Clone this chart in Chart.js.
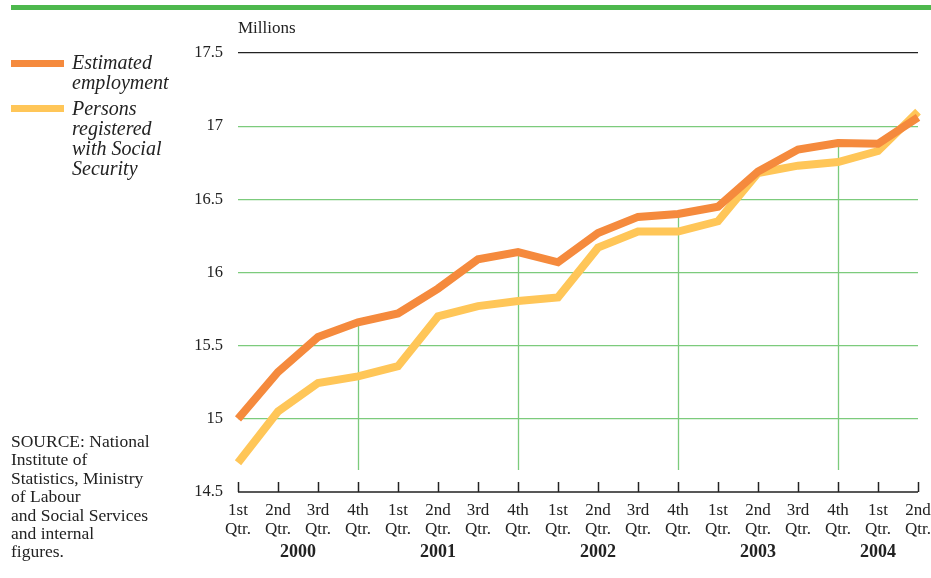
<!DOCTYPE html>
<html>
<head>
<meta charset="utf-8">
<script src="https://cdn.jsdelivr.net/npm/chart.js@4/dist/chart.umd.min.js"></script>
<style>
  body {
    margin: 0;
    width: 931px;
    height: 578px;
    position: relative;
    overflow: hidden;
    background: #fff;
    color: #222;
    font-family: "Liberation Serif", serif;
  }
  /* canvas runs a little past the page edge so the plot ends at x=918 */
  #chart { position: absolute; left: 0; top: 0; }
  #topBar { position: absolute; left: 11px; top: 5px; width: 920px; height: 5px; background: #4db84d; }
  #units { position: absolute; left: 238px; top: 18px; font-size: 17px; line-height: 20px; }
  .swatch { position: absolute; left: 11px; width: 53px; height: 7px; }
  .legendText { position: absolute; left: 72px; font-style: italic; font-size: 20px; line-height: 20px; }
  #source { position: absolute; left: 11px; top: 432px; font-size: 17.5px; line-height: 18.4px; }
</style>
</head>
<body>
<canvas id="chart" width="940" height="578"></canvas>
<div id="topBar"></div>
<div id="units">Millions</div>
<div class="swatch" style="top:60px; background:#f58a3d;"></div>
<div class="legendText" style="top:52px;">Estimated<br>employment</div>
<div class="swatch" style="top:105px; background:#ffc658;"></div>
<div class="legendText" style="top:98px;">Persons<br>registered<br>with Social<br>Security</div>
<div id="source">SOURCE: National<br>Institute of<br>Statistics, Ministry<br>of Labour<br>and Social Services<br>and internal<br>figures.</div>

<script>
// Quarterly series, 1st Qtr. 2000 to 2nd Qtr. 2004 (millions)
const quarterLabels = [
  ['1st', 'Qtr.'], ['2nd', 'Qtr.'], ['3rd', 'Qtr.'], ['4th', 'Qtr.'],
  ['1st', 'Qtr.'], ['2nd', 'Qtr.'], ['3rd', 'Qtr.'], ['4th', 'Qtr.'],
  ['1st', 'Qtr.'], ['2nd', 'Qtr.'], ['3rd', 'Qtr.'], ['4th', 'Qtr.'],
  ['1st', 'Qtr.'], ['2nd', 'Qtr.'], ['3rd', 'Qtr.'], ['4th', 'Qtr.'],
  ['1st', 'Qtr.'], ['2nd', 'Qtr.']
];

const estimatedEmployment = [
  15.00, 15.32, 15.56, 15.66, 15.72, 15.89, 16.09, 16.14, 16.07,
  16.27, 16.38, 16.40, 16.45, 16.69, 16.84, 16.885, 16.88, 17.06
];

const socialSecurity = [
  14.70, 15.05, 15.245, 15.29, 15.36, 15.70, 15.77, 15.805, 15.83,
  16.17, 16.28, 16.28, 16.35, 16.68, 16.73, 16.755, 16.83, 17.10
];

// year captions and the quarter slot each one sits under
const yearLabels = ['2000', '2001', '2002', '2003', '2004'];
const yearSlots = [1.5, 5, 9, 13, 16];

const FONT = '"Liberation Serif", serif';
const INK = '#222';
const GRID_GREEN = '#7ccb7c';

// drop lines from the employment line at every 4th quarter, plus the
// bottom axis with upward ticks and the year captions
const decorations = {
  id: 'decorations',
  beforeDatasetsDraw(chart) {
    const { ctx, chartArea, scales: { x, y } } = chart;
    ctx.save();
    ctx.strokeStyle = GRID_GREEN;
    ctx.lineWidth = 1.3;
    estimatedEmployment.forEach((v, i) => {
      if (i % 4 !== 3) return;
      const px = Math.round(x.getPixelForValue(i)) + 0.5;
      ctx.beginPath();
      ctx.moveTo(px, y.getPixelForValue(v));
      ctx.lineTo(px, chartArea.bottom - 22);
      ctx.stroke();
    });
    ctx.restore();
  },
  afterDraw(chart) {
    const { ctx, chartArea, scales: { x } } = chart;
    const base = chartArea.bottom;
    ctx.save();
    ctx.strokeStyle = INK;
    ctx.lineWidth = 1.5;
    ctx.beginPath();
    ctx.moveTo(chartArea.left, base);
    ctx.lineTo(chartArea.right, base);
    quarterLabels.forEach((_, i) => {
      const px = Math.round(x.getPixelForValue(i)) + 0.5;
      ctx.moveTo(px, base);
      ctx.lineTo(px, base - 10);
    });
    ctx.stroke();

    ctx.fillStyle = INK;
    ctx.font = 'bold 18px ' + FONT;
    ctx.textAlign = 'center';
    ctx.textBaseline = 'middle';
    yearLabels.forEach((label, i) => {
      const slot = yearSlots[i];
      const lo = x.getPixelForValue(Math.floor(slot));
      const hi = x.getPixelForValue(Math.ceil(slot));
      ctx.fillText(label, lo + (hi - lo) * (slot - Math.floor(slot)), 552);
    });
    ctx.restore();
  }
};

new Chart(document.getElementById('chart'), {
  type: 'line',
  data: {
    labels: quarterLabels,
    datasets: [
      {
        label: 'Estimated employment',
        data: estimatedEmployment,
        borderColor: '#f58a3d',
        borderWidth: 8,
        pointRadius: 0,
        tension: 0,
        fill: false,
        clip: false
      },
      {
        label: 'Persons registered with Social Security',
        data: socialSecurity,
        borderColor: '#ffc658',
        borderWidth: 8,
        pointRadius: 0,
        tension: 0,
        fill: false,
        clip: false
      }
    ]
  },
  options: {
    responsive: false,
    animation: false,
    devicePixelRatio: 1,
    layout: { padding: { left: 0, top: 53, right: 0, bottom: 0 } },
    plugins: {
      legend: { display: false },
      tooltip: { enabled: false }
    },
    scales: {
      x: {
        type: 'category',
        offset: false,
        grid: { display: false, drawTicks: false },
        border: { display: false },
        ticks: {
          autoSkip: false,
          maxRotation: 0,
          padding: 9,
          color: INK,
          font: { family: FONT, size: 17, lineHeight: 1.1 }
        },
        afterFit(scale) { scale.height = 86; }
      },
      y: {
        min: 14.5,
        max: 17.5,
        grid: {
          drawTicks: false,
          lineWidth: 1.3,
          color: c => c.tick.value === 17.5 ? INK : (c.tick.value === 14.5 ? 'rgba(0,0,0,0)' : GRID_GREEN)
        },
        border: { display: false },
        ticks: {
          stepSize: 0.5,
          padding: 15,
          color: INK,
          font: { family: FONT, size: 16.5 },
          callback: v => String(v)
        },
        afterFit(scale) { scale.width = 238; }
      }
    }
  },
  plugins: [decorations]
});
</script>
</body>
</html>
